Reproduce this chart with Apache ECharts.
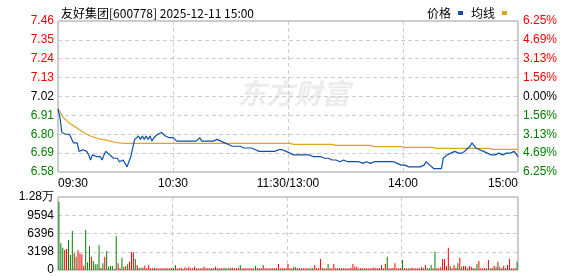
<!DOCTYPE html>
<html><head><meta charset="utf-8">
<script src="https://cdn.jsdelivr.net/npm/echarts@6/dist/echarts.min.js"></script>
<style>html,body{margin:0;padding:0;background:#fff}#c{width:578px;height:276px}</style>
</head><body><div id="c"></div>
<script>
const titleText = '友好集团[600778] 2025-12-11 15:00';
const seriesNames = ['价格', '均线'];
const price = [
6.95,6.90,6.81,6.80,6.80,6.80,6.80,6.79,6.75,6.74,
6.75,6.70,6.70,6.71,6.72,6.70,6.68,6.65,6.68,6.69,
6.67,6.66,6.67,6.65,6.68,6.70,6.69,6.68,6.67,6.66,
6.65,6.66,6.64,6.64,6.65,6.63,6.61,6.64,6.67,6.72,
6.77,6.77,6.79,6.77,6.79,6.77,6.79,6.77,6.79,6.76,
6.78,6.79,6.80,6.81,6.81,6.80,6.79,6.78,6.78,6.79,
6.78,6.77,6.76,6.75,6.76,6.76,6.76,6.76,6.76,6.76,
6.76,6.76,6.76,6.77,6.78,6.76,6.77,6.76,6.77,6.76,
6.77,6.76,6.76,6.77,6.76,6.76,6.75,6.75,6.75,6.74,
6.74,6.73,6.74,6.73,6.73,6.73,6.73,6.72,6.72,6.72,
6.72,6.72,6.71,6.71,6.70,6.70,6.70,6.70,6.70,6.70,
6.70,6.70,6.70,6.70,6.70,6.71,6.71,6.71,6.70,6.70,
6.69,6.69,6.68,6.68,6.68,6.68,6.67,6.68,6.68,6.68,
6.68,6.68,6.67,6.67,6.67,6.67,6.66,6.67,6.67,6.66,
6.67,6.66,6.66,6.65,6.65,6.65,6.64,6.64,6.64,6.65,
6.64,6.64,6.64,6.64,6.63,6.64,6.64,6.64,6.63,6.63,
6.64,6.64,6.63,6.63,6.64,6.64,6.64,6.64,6.64,6.64,
6.64,6.64,6.64,6.64,6.63,6.64,6.64,6.63,6.63,6.62,
6.62,6.62,6.61,6.61,6.60,6.61,6.61,6.61,6.61,6.61,
6.61,6.62,6.64,6.63,6.62,6.61,6.60,6.60,6.60,6.60,
6.60,6.66,6.67,6.68,6.69,6.69,6.69,6.70,6.70,6.69,
6.69,6.69,6.70,6.71,6.72,6.73,6.75,6.74,6.72,6.72,
6.71,6.70,6.70,6.69,6.69,6.69,6.68,6.68,6.68,6.68,
6.69,6.68,6.68,6.69,6.69,6.69,6.69,6.70,6.70,6.69,
6.67];
const avgPrice = [
6.945,6.930,6.915,6.895,6.885,6.875,6.865,6.857,6.850,6.843,
6.836,6.828,6.820,6.813,6.806,6.800,6.795,6.790,6.786,6.782,
6.778,6.775,6.772,6.770,6.768,6.766,6.764,6.761,6.758,6.755,
6.753,6.751,6.749,6.748,6.747,6.747,6.747,6.747,6.747,6.747,
6.747,6.747,6.747,6.747,6.747,6.747,6.747,6.747,6.747,6.747,
6.747,6.747,6.747,6.747,6.747,6.747,6.747,6.747,6.747,6.747,
6.747,6.747,6.747,6.747,6.747,6.747,6.747,6.747,6.747,6.747,
6.747,6.747,6.747,6.747,6.747,6.747,6.747,6.747,6.747,6.747,
6.747,6.747,6.747,6.747,6.747,6.747,6.747,6.747,6.747,6.747,
6.747,6.747,6.747,6.747,6.747,6.747,6.747,6.747,6.747,6.747,
6.747,6.747,6.747,6.747,6.747,6.747,6.747,6.747,6.747,6.747,
6.747,6.747,6.747,6.747,6.747,6.747,6.747,6.747,6.747,6.747,
6.747,6.747,6.741,6.741,6.741,6.741,6.741,6.741,6.741,6.741,
6.741,6.741,6.741,6.741,6.741,6.741,6.741,6.741,6.741,6.741,
6.741,6.741,6.741,6.741,6.741,6.735,6.735,6.735,6.735,6.735,
6.735,6.735,6.735,6.735,6.735,6.735,6.735,6.735,6.735,6.735,
6.735,6.735,6.735,6.735,6.728,6.728,6.728,6.728,6.728,6.728,
6.728,6.728,6.728,6.728,6.728,6.728,6.728,6.728,6.728,6.728,
6.724,6.724,6.724,6.724,6.724,6.724,6.724,6.724,6.724,6.724,
6.724,6.724,6.724,6.724,6.724,6.724,6.724,6.718,6.718,6.718,
6.718,6.718,6.718,6.718,6.718,6.718,6.718,6.718,6.718,6.718,
6.718,6.718,6.718,6.718,6.718,6.718,6.718,6.718,6.718,6.718,
6.718,6.718,6.718,6.718,6.718,6.718,6.712,6.712,6.712,6.712,
6.712,6.712,6.712,6.712,6.712,6.712,6.712,6.712,6.712,6.712,
6.712];
const volume = [
11970,4670,3910,3500,3680,5260,2630,6830,2920,2340,
3500,2920,2740,760,7010,1340,4200,2340,1580,990,
990,4380,410,1170,2340,3330,580,700,700,175,
5960,1170,300,2160,580,700,990,1460,3100,3100,
1930,880,410,410,410,760,300,880,300,290,
410,290,300,300,300,300,300,300,300,300,
300,880,300,300,410,175,470,300,580,300,
300,580,300,300,300,300,580,300,300,300,
300,300,580,300,300,300,300,410,300,300,
410,410,300,300,410,880,300,300,300,300,
300,300,300,700,300,300,300,880,300,300,
300,300,300,300,300,1050,300,300,300,300,
1050,300,300,580,470,300,300,300,300,300,
300,300,300,410,880,300,300,1930,410,300,
300,1050,300,300,1050,300,300,300,300,300,
300,300,300,410,1050,580,580,300,300,300,
300,300,300,300,300,470,300,300,300,880,
300,1050,2340,300,300,410,1170,300,300,300,
1750,300,300,300,300,410,300,300,300,300,
520,300,880,300,300,880,300,3210,300,300,
470,1930,1930,700,3910,700,300,880,410,1170,
2160,580,700,700,300,700,580,410,300,1050,
1580,300,300,300,300,1750,300,410,760,580,
1460,580,300,760,300,880,1930,300,300,300,
1460];
const volUp = [
0,0,0,1,1,0,0,0,1,0,
1,1,1,1,0,0,0,1,0,0,
0,0,1,0,1,0,0,0,0,1,
0,1,1,0,0,1,0,1,1,1,
0,1,0,0,1,1,1,1,1,1,
0,1,1,1,1,1,1,1,1,1,
1,0,1,1,1,0,1,1,1,1,
1,1,1,1,0,1,1,1,1,1,
1,1,1,1,1,1,1,0,0,1,
0,1,1,1,1,0,1,1,1,1,
1,1,1,0,1,1,1,1,1,1,
1,1,1,1,1,1,1,1,1,1,
1,1,1,0,0,1,1,1,1,1,
1,0,1,0,1,1,1,1,0,1,
1,0,1,1,1,1,1,1,1,1,
1,1,1,1,1,1,1,1,1,1,
1,1,1,1,1,1,1,1,1,1,
1,1,0,1,1,1,1,1,1,1,
0,1,1,0,1,1,1,1,1,1,
1,0,1,1,0,0,1,0,1,1,
1,1,1,1,1,0,1,1,1,0,
1,0,1,1,1,1,1,0,1,0,
1,1,1,1,0,1,0,1,1,0,
1,0,1,1,1,1,1,1,1,1,
0];
const leftLabels = ['6.58','6.69','6.80','6.91','7.02','7.13','7.24','7.35','7.46'];
const rightLabels = ['6.25%','4.69%','3.13%','1.56%','0.00%','1.56%','3.13%','4.69%','6.25%'];
const volLabels = ['0','3198','6396','9594','1.28万'];
const xTickIdx = [0, 60, 120, 180, 240];
const xTickLabels = ['09:30', '10:30', '11:30/13:00', '14:00', '15:00'];

// minute categories
const times = [];
function pad(n){return (n<10?'0':'')+n;}
for (let t = 9*60+30; t <= 11*60+30; t++) times.push(pad(Math.floor(t/60))+':'+pad(t%60));
for (let t = 13*60+1; t <= 15*60; t++) times.push(pad(Math.floor(t/60))+':'+pad(t%60));

const RED = '#ff0000', GREEN = '#008000', DARK = '#000000';
const FONT = 'Liberation Sans';
function lvlColor(i){ return i < 4 ? GREEN : (i === 4 ? DARK : RED); }

const chart = echarts.init(document.getElementById('c'), null, {renderer: 'canvas'});
chart.setOption({
  animation: false,
  backgroundColor: '#fff',
  title: {
    text: titleText, left: 56, top: 2,
    textStyle: {fontSize: 12, fontWeight: 'normal', color: '#000', fontFamily: 'Noto Sans CJK SC'}
  },
  legend: {
    data: seriesNames, right: 66, top: 2, icon: 'rect', itemWidth: 5, itemHeight: 4,
    align: 'right', itemGap: 8,
    textStyle: {fontSize: 12, color: '#000', fontFamily: 'Noto Sans CJK SC', padding: [0, 2, 0, 0]}
  },
  graphic: [{
    type: 'text', left: 238, top: 79, z: -1, silent: true,
    style: {text: '东方财富', fill: '#ececec', font: 'italic bold 28px "Noto Sans CJK SC"'}
  }],
  grid: [
    {left: 58, top: 21, width: 460, height: 151, show: true, borderColor: '#999', borderWidth: 1, backgroundColor: 'transparent'},
    {left: 58, top: 197, width: 460, height: 73, show: true, borderColor: '#999', borderWidth: 1, backgroundColor: 'transparent'}
  ],
  xAxis: [{
    type: 'category', gridIndex: 0, data: times, boundaryGap: false,
    axisLine: {show: false}, axisTick: {show: false},
    axisLabel: {
      interval: (i) => xTickIdx.indexOf(i) >= 0,
      formatter: (v, i) => xTickLabels[xTickIdx.indexOf(i)],
      fontSize: 12, color: '#000', fontFamily: FONT, margin: 6,
      alignMinLabel: 'left', alignMaxLabel: 'right'
    },
    splitLine: {show: true, interval: (i) => i === 60 || i === 120 || i === 180,
      lineStyle: {color: '#ccc', type: [4, 3], width: 1}}
  }, {
    type: 'category', gridIndex: 1, data: times, boundaryGap: true,
    axisLine: {show: false}, axisTick: {show: false}, axisLabel: {show: false},
    splitLine: {show: true, interval: (i) => i === 60 || i === 120 || i === 180,
      lineStyle: {color: '#ccc', type: [4, 3], width: 1}}
  }],
  yAxis: [{
    type: 'value', gridIndex: 0, min: 6.58, max: 7.46, interval: 0.11, scale: true,
    axisLine: {show: false}, axisTick: {show: false},
    axisLabel: {formatter: (v, i) => leftLabels[i], color: (v, i) => lvlColor(i),
      fontSize: 12, fontFamily: FONT, margin: 4},
    splitLine: {show: true, lineStyle: {color: '#ccc', type: [4, 3], width: 1}}
  }, {
    type: 'value', gridIndex: 0, position: 'right', min: 6.58, max: 7.46, interval: 0.11, scale: true,
    axisLine: {show: false}, axisTick: {show: false},
    axisLabel: {formatter: (v, i) => rightLabels[i], color: (v, i) => lvlColor(i),
      fontSize: 12, fontFamily: FONT, margin: 5},
    splitLine: {show: false}
  }, {
    type: 'value', gridIndex: 1, min: 0, max: 12792, interval: 3198,
    axisLine: {show: false}, axisTick: {show: false},
    axisLabel: {formatter: (v, i) => volLabels[i], color: '#000', fontSize: 12, fontFamily: FONT, margin: 4},
    splitLine: {show: true, lineStyle: {color: '#ccc', type: [4, 3], width: 1}}
  }],
  series: [{
    name: seriesNames[0], type: 'line', xAxisIndex: 0, yAxisIndex: 0, data: price,
    showSymbol: false, symbol: 'none', color: '#0f4fa8',
    lineStyle: {width: 1.2, color: '#0f4fa8'}, z: 3
  }, {
    name: seriesNames[1], type: 'line', xAxisIndex: 0, yAxisIndex: 0, data: avgPrice,
    showSymbol: false, symbol: 'none', color: '#e0a41e',
    lineStyle: {width: 1.2, color: '#e0a41e'}, z: 2
  }, {
    name: 'volume', type: 'bar', xAxisIndex: 1, yAxisIndex: 2, barWidth: 1,
    data: volume.map((v, i) => ({value: v, itemStyle: {color: volUp[i] ? RED : GREEN}}))
  }]
});
</script>
</body></html>
